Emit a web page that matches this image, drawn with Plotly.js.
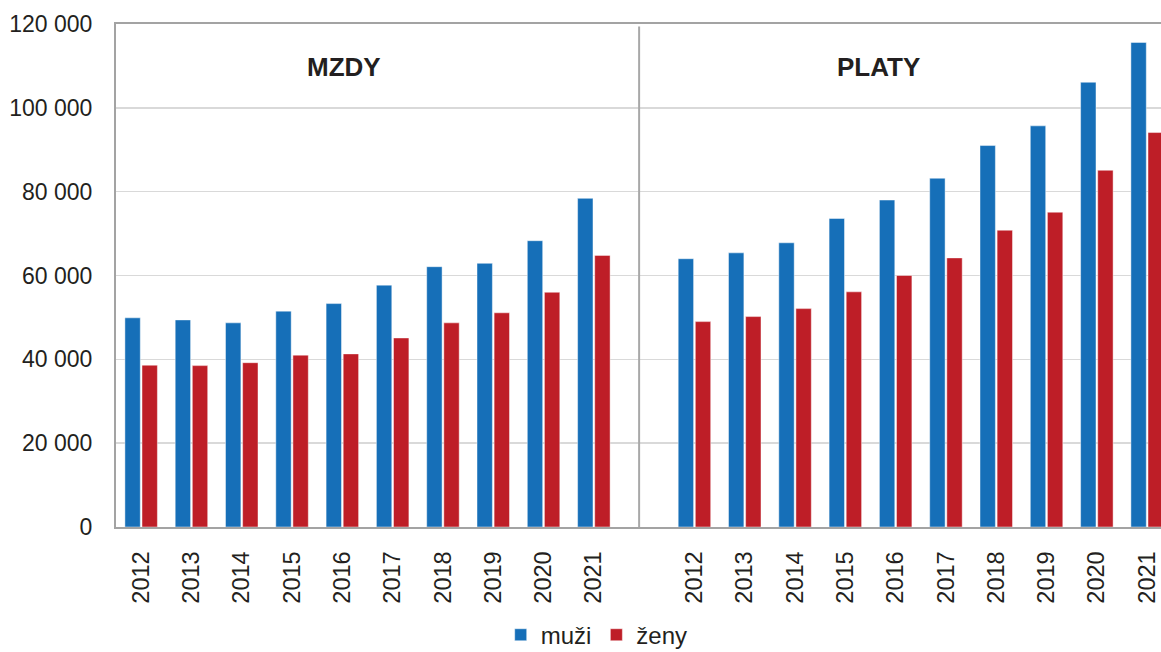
<!DOCTYPE html>
<html>
<head>
<meta charset="utf-8">
<script src="https://cdn.plot.ly/plotly-3.0.1.min.js"></script>
<style>html,body{margin:0;padding:0;background:#fff;}#chart{width:1161px;height:652px;}</style>
</head>
<body>
<div id="chart"></div>
<script>
// Data
const years = ["2012","2013","2014","2015","2016","2017","2018","2019","2020","2021"];
const groups = ["MZDY", "PLATY"];
const seriesNames = ["muži", "ženy"];
const mzdyMuzi = [49900, 49400, 48700, 51500, 53300, 57700, 62100, 62900, 68300, 78400];
const mzdyZeny = [38600, 38500, 39200, 41000, 41300, 45100, 48700, 51100, 56000, 64800];
const platyMuzi = [64000, 65400, 67800, 73600, 78000, 83200, 91000, 95700, 106100, 115600];
const platyZeny = [49000, 50200, 52100, 56100, 60000, 64200, 70800, 75100, 85100, 94100];
const yTicks = [0, 20000, 40000, 60000, 80000, 100000, 120000];

// slot positions: first group, one empty slot, second group
const xM = years.map((_, i) => i);
const xP = years.map((_, i) => i + years.length + 1);
const xAll = xM.concat(xP);
const tickText = years.concat(years);

const blue = "#166fb8", red = "#be1e27";
const font = "Liberation Sans, Arial, sans-serif";

const traces = [
  {type: "bar", name: seriesNames[0], x: xAll, y: mzdyMuzi.concat(platyMuzi),
   marker: {color: blue, line: {color: "rgba(255,255,255,0.45)", width: 1}}, hoverinfo: "y"},
  {type: "bar", name: seriesNames[1], x: xAll, y: mzdyZeny.concat(platyZeny),
   marker: {color: red, line: {color: "rgba(255,255,255,0.45)", width: 1}}, hoverinfo: "y"}
];

const slotPx = 50.3;
const plotW = 1161 - 116;

const layout = {
  width: 1161, height: 652,
  margin: {l: 116, r: 0, t: 24, b: 125, pad: 0, autoexpand: false},
  paper_bgcolor: "#fff", plot_bgcolor: "#fff",
  font: {family: font, size: 23, color: "#231f20"},
  separators: ", ",
  barmode: "group", bargap: 0.32, bargroupgap: 0.1,
  showlegend: true,
  legend: {orientation: "h", x: 0.46, xanchor: "center", y: -0.215, yanchor: "middle",
           font: {family: font, size: 24, color: "#231f20"}, tracegroupgap: 0},
  xaxis: {
    range: [-0.5, -0.5 + plotW / slotPx], fixedrange: true,
    tickmode: "array", tickvals: xAll, ticktext: tickText, tickangle: -90,
    ticks: "", ticklabelstandoff: 13,
    tickfont: {family: font, size: 23.5, color: "#231f20"},
    showgrid: false, zeroline: false,
    showline: true, linecolor: "#a3a3a3", linewidth: 2, mirror: true
  },
  yaxis: {
    range: [0, 120000], tickvals: yTicks, tickformat: ",d", fixedrange: true,
    ticks: "", ticklabelstandoff: 17,
    tickfont: {family: font, size: 23, color: "#231f20"},
    showgrid: true, gridcolor: "#d9d9d9", gridwidth: 1.5, zeroline: false,
    showline: true, linecolor: "#a3a3a3", linewidth: 2
  },
  shapes: [
    {type: "line", xref: "x", yref: "paper", x0: 9.9, x1: 9.9, y0: 0, y1: 0.995,
     line: {color: "#a8a8a8", width: 2}}
  ],
  annotations: [
    {text: "<b>" + groups[0] + "</b>", xref: "x", yref: "y", x: 4.03, y: 109800, showarrow: false,
     font: {family: font, size: 26, color: "#231f20"}, xanchor: "center", yanchor: "middle"},
    {text: "<b>" + groups[1] + "</b>", xref: "x", yref: "y", x: 14.65, y: 109800, showarrow: false,
     font: {family: font, size: 26, color: "#231f20"}, xanchor: "center", yanchor: "middle"}
  ]
};

Plotly.newPlot("chart", traces, layout, {displayModeBar: false, staticPlot: true});
</script>
</body>
</html>
